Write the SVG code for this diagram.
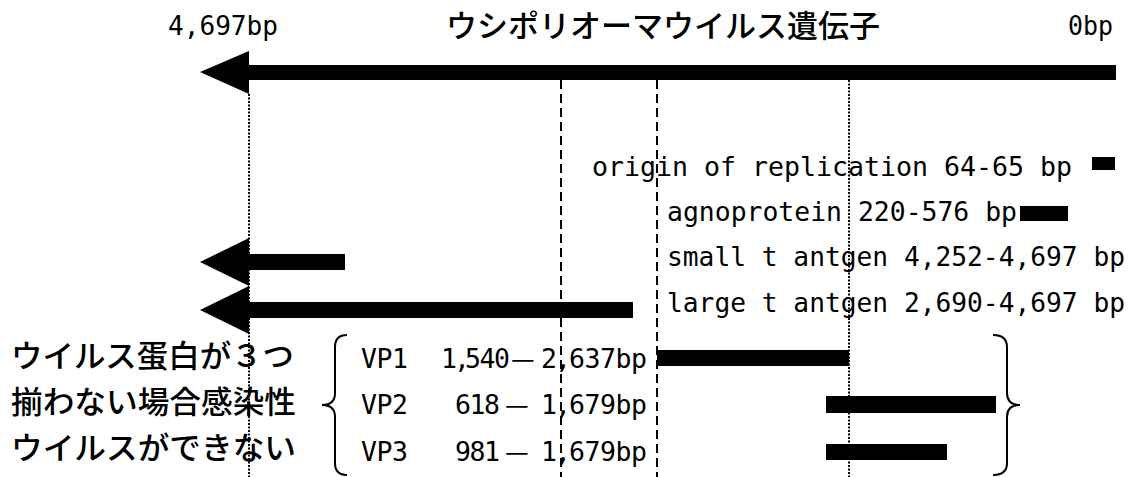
<svg xmlns="http://www.w3.org/2000/svg" width="1139" height="477" viewBox="0 0 1139 477">
<style>
.mono{font-family:"DejaVu Sans Mono","Noto Sans CJK JP",monospace;font-size:26.5px;fill:#000}
.jp{font-family:"Noto Sans CJK JP","Noto Sans CJK SC",sans-serif;font-size:31px;font-weight:500;fill:#000}
.fw{font-family:"Noto Sans CJK JP",sans-serif}
.bar{fill:#000}
.dot{stroke:#000;stroke-width:2;stroke-dasharray:2 1.5;fill:none}
.dash{stroke:#000;stroke-width:2;stroke-dasharray:9 5;fill:none}
.brace{stroke:#000;stroke-width:2;fill:none}
</style>
<rect width="1139" height="477" fill="#fff"/>
<g id="connectors">
<line class="dot" x1="249" y1="94" x2="249" y2="477"/>
<line class="dash" x1="561" y1="80" x2="561" y2="477"/>
<line class="dash" x1="657" y1="80" x2="657" y2="477"/>
<line class="dot" x1="849" y1="80" x2="849" y2="477"/>
</g>
<g id="genome">
<text class="mono" x="168" y="35" textLength="110" lengthAdjust="spacingAndGlyphs">4,697bp</text>
<text class="jp" x="446" y="37" textLength="434" lengthAdjust="spacingAndGlyphs">ウシポリオーマウイルス遺伝子</text>
<text class="mono" x="1068" y="35" textLength="45" lengthAdjust="spacingAndGlyphs">0bp</text>
<polygon class="bar" points="200,72 249,51 249,65 1116,65 1116,80 249,80 249,94"/>
</g>
<g id="origin">
<text class="mono" x="592" y="176" textLength="480" lengthAdjust="spacingAndGlyphs">origin of replication 64-65 bp</text>
<rect class="bar" x="1092" y="157" width="23" height="13"/>
</g>
<g id="agnoprotein">
<text class="mono" x="667" y="221" textLength="350" lengthAdjust="spacingAndGlyphs">agnoprotein 220-576 bp</text>
<rect class="bar" x="1020" y="206" width="48" height="15"/>
</g>
<g id="small-t">
<text class="mono" x="667" y="266" textLength="458" lengthAdjust="spacingAndGlyphs">small t antgen 4,252-4,697 bp</text>
<polygon class="bar" points="200,262 249,238 249,254 345,254 345,270 249,270 249,286"/>
</g>
<g id="large-t">
<text class="mono" x="667" y="312" textLength="458" lengthAdjust="spacingAndGlyphs">large t antgen 2,690-4,697 bp</text>
<polygon class="bar" points="200,310 249,286 249,302 633,302 633,318 249,318 249,334"/>
</g>
<g id="note">
<text class="jp" x="11" y="367" textLength="283" lengthAdjust="spacingAndGlyphs">ウイルス蛋白が３つ</text>
<text class="jp" x="11" y="413" textLength="285" lengthAdjust="spacingAndGlyphs">揃わない場合感染性</text>
<text class="jp" x="11" y="459" textLength="285" lengthAdjust="spacingAndGlyphs">ウイルスができない</text>
<path class="brace" d="M347,335 Q335,335 335,347 L335,393 Q335,405 322,405 Q335,405 335,417 L335,463 Q335,475 347,475"/>
<path class="brace" d="M993,335 Q1007,335 1007,347 L1007,393 Q1007,405 1020,405 Q1007,405 1007,417 L1007,463 Q1007,475 993,475"/>
</g>
<g id="vp1">
<text class="mono" y="368" xml:space="preserve" style="white-space:pre"><tspan x="361 376.5 392 408 424 441 454 465 479.5 494">VP1  1,540</tspan><tspan class="fw" x="511">—</tspan><tspan x="541 555 569 584.5 600 615.5 631">2,637bp</tspan></text>
<rect class="bar" x="657" y="350" width="192" height="16"/>
</g>
<g id="vp2">
<text class="mono" y="414" xml:space="preserve" style="white-space:pre"><tspan x="361 376.5 392 408 424 440 455 469.5 484">VP2   618</tspan><tspan class="fw" x="505">—</tspan><tspan x="541 555 569 584.5 600 615.5 631">1,679bp</tspan></text>
<rect class="bar" x="826" y="396" width="170" height="17"/>
</g>
<g id="vp3">
<text class="mono" y="461" xml:space="preserve" style="white-space:pre"><tspan x="361 376.5 392 408 424 440 455 469.5 484">VP3   981</tspan><tspan class="fw" x="505">—</tspan><tspan x="541 555 569 584.5 600 615.5 631">1,679bp</tspan></text>
<rect class="bar" x="826" y="444" width="121" height="16"/>
</g>
</svg>
